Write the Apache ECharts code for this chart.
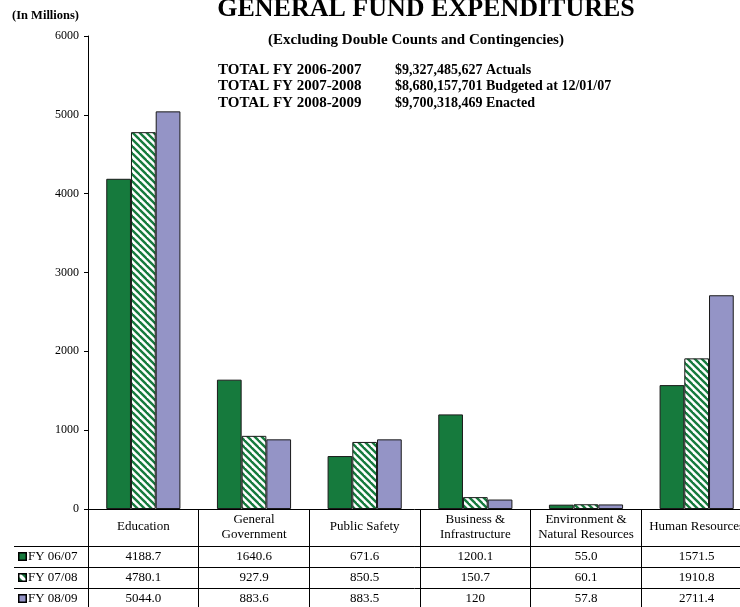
<!DOCTYPE html>
<html><head><meta charset="utf-8">
<script src="https://cdn.jsdelivr.net/npm/echarts@6/dist/echarts.min.js"></script>
<style>html,body{margin:0;padding:0;background:#fff}#c{width:740px;height:607px}</style>
</head><body><div id="c"></div>
<script>
// ---- data ----
const categories = ['Education', 'General\nGovernment', 'Public Safety', 'Business &\nInfrastructure', 'Environment &\nNatural Resources', 'Human Resources'];
const seriesNames = ['FY 06/07', 'FY 07/08', 'FY 08/09'];
const fy0607 = ['4188.7', '1640.6', '671.6', '1200.1', '55.0', '1571.5'];
const fy0708 = ['4780.1', '927.9', '850.5', '150.7', '60.1', '1910.8'];
const fy0809 = ['5044.0', '883.6', '883.5', '120', '57.8', '2711.4'];
const yMin = 0, yMax = 6000, yInterval = 1000;
const totalLabels = ['TOTAL FY 2006-2007', 'TOTAL FY 2007-2008', 'TOTAL FY 2008-2009'];
const totalValues = ['$9,327,485,627 Actuals', '$8,680,157,701 Budgeted at 12/01/07', '$9,700,318,469 Enacted'];
const titleText = 'GENERAL FUND EXPENDITURES';
const subtitleText = '(Excluding Double Counts and Contingencies)';
const unitText = '(In Millions)';

// ---- styles ----
const FONT = '"Liberation Serif", "Times New Roman", serif';
const GREEN = '#167a3d';
const PURPLE = '#9494c6';
const BORDER = '#1a1a1a';

function makeHatch() {
  const s = 7;
  const cv = document.createElement('canvas');
  cv.width = s; cv.height = s;
  const ctx = cv.getContext('2d');
  ctx.fillStyle = '#ffffff';
  ctx.fillRect(0, 0, s, s);
  ctx.strokeStyle = GREEN;
  ctx.lineWidth = 2.4;
  for (let k = -1; k <= 1; k++) {
    ctx.beginPath();
    ctx.moveTo(k * s - 1, -1);
    ctx.lineTo(k * s + s + 1, s + 1);
    ctx.stroke();
  }
  return cv;
}
function makeIcon(kind) {
  const s = 9;
  const cv = document.createElement('canvas');
  cv.width = s; cv.height = s;
  const ctx = cv.getContext('2d');
  if (kind === 1) {
    ctx.fillStyle = '#ffffff';
    ctx.fillRect(0, 0, s, s);
    ctx.fillStyle = GREEN;
    ctx.beginPath();
    ctx.moveTo(2, 0); ctx.lineTo(s, 0); ctx.lineTo(s, s - 2); ctx.closePath();
    ctx.fill();
    ctx.beginPath();
    ctx.moveTo(0, 3); ctx.lineTo(0, s); ctx.lineTo(s - 3, s); ctx.closePath();
    ctx.fill();
  } else {
    ctx.fillStyle = kind === 0 ? GREEN : PURPLE;
    ctx.fillRect(0, 0, s, s);
  }
  ctx.strokeStyle = '#000';
  ctx.lineWidth = 1.5;
  ctx.strokeRect(0.75, 0.75, s - 1.5, s - 1.5);
  return cv;
}
const hatch = makeHatch();
const icons = [makeIcon(0), makeIcon(1), makeIcon(2)];
const fills = [GREEN, { image: hatch, repeat: 'repeat' }, PURPLE];
const tableRows = [fy0607, fy0708, fy0809];

const chart = echarts.init(document.getElementById('c'), null, { renderer: 'canvas' });

const cellData = [];
tableRows.forEach((row, r) => row.forEach((v, c) => cellData.push([c, r])));

const option = {
  animation: false,
  backgroundColor: '#fff',
  textStyle: { fontFamily: FONT },
  grid: [
    { left: 88, top: 36, width: 664, height: 473, containLabel: false, outerBoundsMode: 'none' },
    { left: 88, top: 546, width: 664, height: 63, containLabel: false, outerBoundsMode: 'none' }
  ],
  xAxis: [
    {
      type: 'category', gridIndex: 0, data: categories,
      axisLine: { show: true, lineStyle: { color: '#000', width: 1 } },
      axisTick: { show: true, length: 37, interval: 0, alignWithLabel: false, lineStyle: { color: '#000', width: 1 } },
      axisLabel: { interval: 0, margin: 18, verticalAlign: 'middle', color: '#000', fontSize: 13, lineHeight: 15, fontFamily: FONT },
      splitLine: { show: false }
    },
    {
      type: 'category', gridIndex: 1, data: categories, position: 'top',
      axisLine: { show: true, lineStyle: { color: '#000', width: 1 } },
      axisTick: { show: false },
      axisLabel: { show: false },
      splitLine: { show: true, interval: 0, lineStyle: { color: '#000', width: 1 } }
    }
  ],
  yAxis: [
    {
      type: 'value', gridIndex: 0, min: yMin, max: yMax, interval: yInterval,
      axisLine: { show: true, lineStyle: { color: '#000', width: 1 } },
      axisTick: { show: true, length: 4, lineStyle: { color: '#000', width: 1 } },
      axisLabel: { color: '#000', fontSize: 12, margin: 9, fontFamily: FONT, formatter: v => String(v) },
      splitLine: { show: false }
    },
    {
      type: 'category', gridIndex: 1, data: seriesNames, inverse: true,
      axisLine: { show: true, lineStyle: { color: '#000', width: 1 } },
      axisTick: { show: true, length: 74, interval: 0, alignWithLabel: false, lineStyle: { color: '#000', width: 1 } },
      axisLabel: {
        align: 'left', margin: 70, color: '#000', fontFamily: FONT, fontSize: 13,
        formatter: (v, i) => '{i' + i + '|}{t|' + v + '}',
        rich: {
          i0: { width: 9, height: 9, backgroundColor: { image: icons[0] } },
          i1: { width: 9, height: 9, backgroundColor: { image: icons[1] } },
          i2: { width: 9, height: 9, backgroundColor: { image: icons[2] } },
          t: { fontSize: 13, fontFamily: FONT, color: '#000', padding: [0, 0, 0, 1] }
        }
      },
      splitLine: { show: true, interval: 0, lineStyle: { color: '#000', width: 1 } }
    },
    {
      type: 'category', gridIndex: 1, data: seriesNames, inverse: true, offset: 74,
      axisLine: { show: true, lineStyle: { color: '#000', width: 1 } },
      axisTick: { show: false }, axisLabel: { show: false }, splitLine: { show: false }
    }
  ],
  series: [
    ...tableRows.map((row, i) => ({
      type: 'bar', name: seriesNames[i], xAxisIndex: 0, yAxisIndex: 0,
      data: row.map(Number),
      barCategoryGap: '33%', barGap: '0%',
      itemStyle: { color: fills[i], borderColor: BORDER, borderWidth: 1 }
    })),
    {
      type: 'custom', xAxisIndex: 1, yAxisIndex: 1, data: cellData, clip: false,
      renderItem: (params, api) => {
        const c = api.value(0), r = api.value(1);
        const p = api.coord([c, r]);
        return {
          type: 'text', x: p[0], y: p[1],
          style: { text: tableRows[r][c], align: 'center', verticalAlign: 'middle', fill: '#000', font: '13px ' + FONT }
        };
      }
    }
  ],
  graphic: [
    { type: 'text', left: 12, top: 9, style: { text: unitText, font: 'bold 12.5px ' + FONT, fill: '#000' } },
    { type: 'text', x: 426, y: 9, style: { text: titleText, font: 'bold 26px ' + FONT, fill: '#000', align: 'center', verticalAlign: 'middle' } },
    { type: 'text', x: 416, y: 40, style: { text: subtitleText, font: 'bold 15px ' + FONT, fill: '#000', align: 'center', verticalAlign: 'middle' } },
    ...totalLabels.map((t, i) => ({ type: 'text', x: 218, y: 70 + i * 16.5, style: { text: t, font: 'bold 15px ' + FONT, fill: '#000', align: 'left', verticalAlign: 'middle' } })),
    ...totalValues.map((t, i) => ({ type: 'text', x: 395, y: 70 + i * 16.5, style: { text: t, font: 'bold 14px ' + FONT, fill: '#000', align: 'left', verticalAlign: 'middle' } }))
  ]
};
chart.setOption(option);
</script></body></html>
